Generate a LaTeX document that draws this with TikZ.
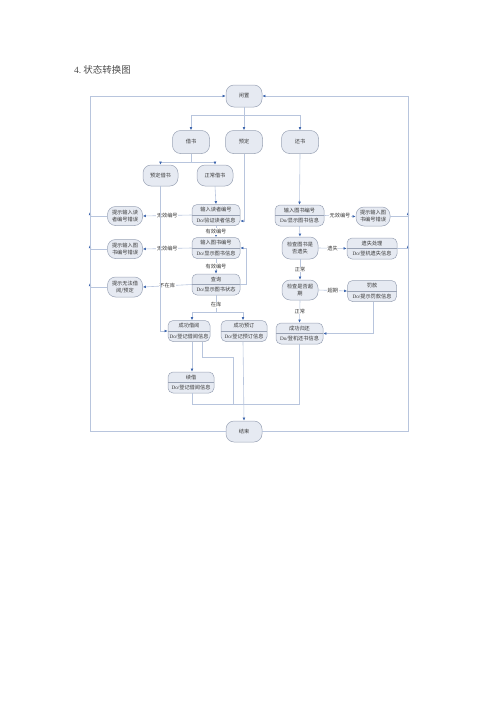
\documentclass[tikz,border=0pt]{standalone}
\usepackage{fontspec}
\setmainfont{Liberation Serif}
\newfontfamily\cjk{Noto Sans CJK SC}
\usetikzlibrary{arrows.meta,calc}
\definecolor{nodefill}{HTML}{E6EAF2}
\definecolor{nodedraw}{HTML}{9AA3B5}
\definecolor{linec}{HTML}{B8C5DD}
\definecolor{arrc}{HTML}{3D66AE}
\definecolor{txtc}{HTML}{3A3A3A}
\tikzset{
  tfont/.style={font=\cjk\fontsize{5.2pt}{7pt}\selectfont, text=txtc},
  st/.style={draw=nodedraw, fill=nodefill, rounded corners=8pt, line width=0.5pt, inner sep=0pt, align=center, tfont},
  bx/.style={draw=nodedraw, fill=nodefill, rounded corners=5pt, line width=0.5pt, inner sep=0pt},
  tx/.style={inner sep=0pt, tfont},
  conn/.style={draw=linec, line width=0.6pt},
  arr/.style={conn, -{Latex[length=3.2pt,width=2.8pt,color=arrc]}},
  lab/.style={fill=white, inner sep=0.6pt, tfont},
}
\newcommand\TwoBox[6]{%
  \node[bx, minimum width=#4pt, minimum height=21pt] (#1) at (#2,#3) {};
  \draw[draw=nodedraw, line width=0.4pt] (#1.west) -- (#1.east);
  \node[tx] (#1-t) at ($(#1.center)+(0,-5)$) {#5};
  \node[tx] (#1-b) at ($(#1.center)+(0,5.2)$) {{\rmfamily Do/}#6};
}
\begin{document}
\begin{tikzpicture}[x=1pt,y=-1pt]
\useasboundingbox (0,0) rectangle (500,707);
\node[anchor=west, inner sep=0pt, font=\cjk\fontsize{9.5pt}{11pt}\selectfont, text=black!70] (title) at (74,70) {{\rmfamily 4.}~状态转换图};

% single nodes
\node[st, minimum width=36pt, minimum height=22pt] (idle) at (244,96) {闲置};
\node[st, minimum width=37pt, minimum height=23pt] (borrow) at (191,142) {借书};
\node[st, minimum width=37pt, minimum height=23pt] (reserve) at (244,142) {预定};
\node[st, minimum width=37pt, minimum height=23pt] (ret) at (300,142) {还书};
\node[st, minimum width=35pt, minimum height=21pt] (resborrow) at (160.5,175.5) {预定借书};
\node[st, minimum width=36pt, minimum height=21pt] (normborrow) at (215,175.5) {正常借书};
\node[st, minimum width=35pt, minimum height=19pt] (err1) at (125,216) {提示输入读\\者编号错误};
\node[st, minimum width=35pt, minimum height=19pt] (err2) at (125,249) {提示输入图\\书编号错误};
\node[st, minimum width=35pt, minimum height=20pt] (err3) at (125,287) {提示无法借\\阅/预定};
\node[st, minimum width=34pt, minimum height=19pt] (errR) at (373,216.5) {提示输入图\\书编号错误};
\node[st, minimum width=36pt, minimum height=22pt] (chklost) at (300,248) {检查图书是\\否遗失};
\node[st, minimum width=36pt, minimum height=20pt] (chkover) at (300,290) {检查是否超\\期};
\node[st, minimum width=36pt, minimum height=21pt] (end) at (244,431.5) {结束};

% two-part nodes
\TwoBox{inreader}{216}{215}{48}{输入读者编号}{验证读者信息}
\TwoBox{inbook}{216}{248}{48}{输入图书编号}{显示图书信息}
\TwoBox{query}{216}{284.5}{48}{查询}{显示图书状态}
\TwoBox{okborrow}{189}{331}{42}{成功借阅}{登记借阅信息}
\TwoBox{okres}{244}{331}{46}{成功预订}{登记预订信息}
\TwoBox{renew}{191}{382.5}{46}{续借}{登记借阅信息}
\TwoBox{inbookR}{299.5}{215.5}{49}{输入图书编号}{显示图书信息}
\TwoBox{lost}{372}{248.5}{50}{遗失处理}{登机遗失信息}
\TwoBox{fine}{372}{291}{49}{罚款}{提示罚款信息}
\TwoBox{okret}{299.5}{333.5}{47}{成功归还}{登机还书信息}

% junction coordinates
\coordinate (j1) at (244,115);
\coordinate (j2) at (191,162);
\coordinate (j3) at (216,312);
\coordinate (j4) at (243,404.5);

% top fan-out
\draw[conn] (idle.south) -- (j1);
\draw[arr] (j1) -| (borrow.north);
\draw[arr] (j1) -- (reserve.north);
\draw[arr] (j1) -| (ret.north);

% borrow branch
\draw[conn] (borrow.south) -- (j2);
\draw[arr] (j2) -| (resborrow.north);
\draw[arr] (j2) -| (normborrow.north);
\draw[arr] (normborrow.south) -- (inreader.north);
\draw[arr] (reserve.south) |- ($(inreader.east)+(0,6)$);

\draw[arr] (inreader.west) -- node[lab]{无效编号} (err1.east);
\draw[arr] (inreader.south) -- node[lab]{有效编号} (inbook.north);
\draw[arr] (inbook.west) -- node[lab]{无效编号} (err2.east);
\draw[arr] (inbook.south) -- node[lab]{有效编号} (query.north);
\draw[arr] (query.west) -- node[lab]{不在库} (err3.east);
\draw[arr] (query.east) -| (246,248) -- (inbook.east);

\draw[conn] (query.south) -- (j3);
\node[lab] (lzk) at (216,305) {在库};
\draw[arr] (j3) -| (192,331 |- okborrow.north);
\draw[arr] (j3) -| (243,331 |- okres.north);
\draw[arr] (resborrow.south) |- (okborrow.west);

% error nodes back to outer loop
\draw[arr] (err1.west) -| (90,212);
\draw[arr] (err2.west) -| (90,245);
\draw[arr] (err3.west) -| (90,283);

% lower part
\draw[arr] (192,331 |- okborrow.south) -- (192,331 |- renew.north);
\draw[conn] (202,331 |- okborrow.south) |- (233,357) |- (j4);
\draw[conn] (192,331 |- renew.south) |- (j4);
\draw[arr] (243,331 |- okres.south) -- (end.north);
\draw[conn] (okret.south) |- (j4);

% return branch
\draw[arr] (ret.south) -- (inbookR.north);
\draw[arr] (inbookR.east) -- node[lab]{无效编号} (errR.west);
\draw[arr] (errR.east) -| (408,212);
\draw[arr] (inbookR.south) -- (chklost.north);
\draw[arr] (chklost.east) -- node[lab]{遗失} (lost.west);
\draw[arr] (lost.east) -| (408,245);
\draw[arr] (chklost.south) -- node[lab]{正常} (chkover.north);
\draw[arr] (chkover.east) -- node[lab]{超期} (fine.west);
\draw[arr] (chkover.south) -- node[lab]{正常} (okret.north);
\draw[arr] (373,291 |- fine.south) |- (okret.east);

% outer loop
\draw[arr] (end.west) -| (90,96) -- (idle.west);
\draw[arr] (end.east) -| (408,96) -- (idle.east);
\end{tikzpicture}
\end{document}
